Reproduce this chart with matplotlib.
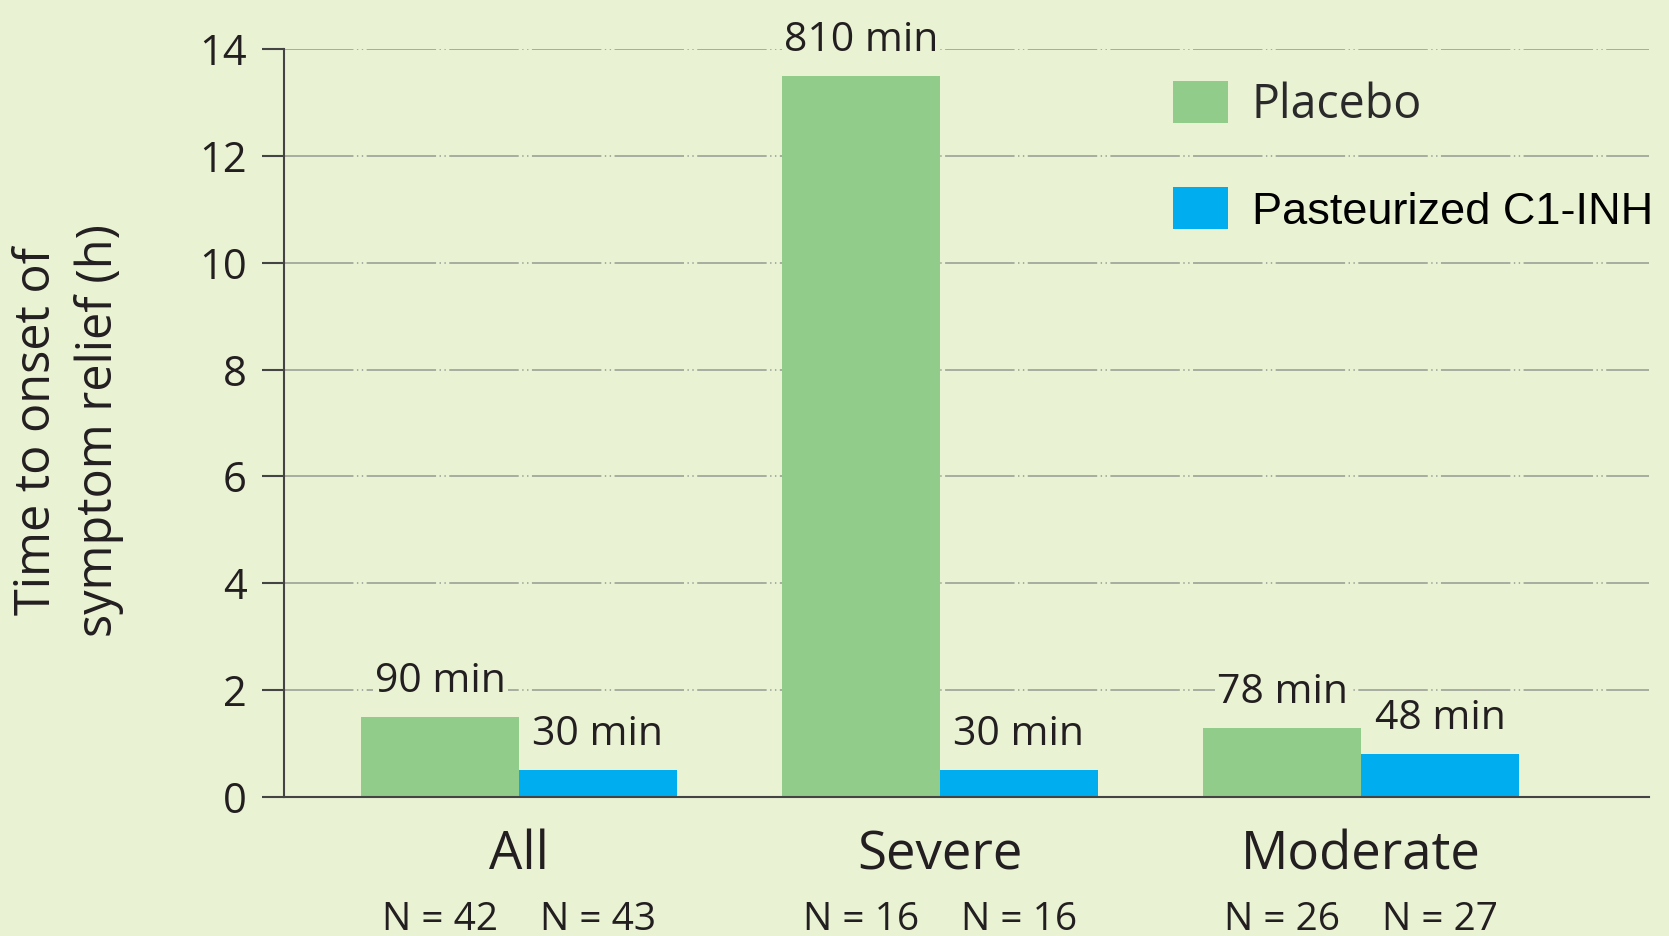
import matplotlib
matplotlib.use("Agg")
import matplotlib.pyplot as plt
import numpy as np

# Data: median time to onset of symptom relief, minutes
groups = ["All", "Severe", "Moderate"]
placebo_min = [90, 810, 78]
c1inh_min = [30, 30, 48]
placebo_n = [42, 16, 26]
c1inh_n = [43, 16, 27]
yticks = [0, 2, 4, 6, 8, 10, 12, 14]

BG = "#E9F2D3"
GREEN = "#92CC8A"
BLUE = "#00ADEF"
INK = "#231F20"
AXIS = "#444444"
FONT = "Open Sans"

plt.rcParams["lines.scale_dashes"] = False

fig = plt.figure(figsize=(16.69, 9.36), dpi=100, facecolor=BG)
ax = fig.add_axes([0.1702, 0.1485, 0.988 - 0.1702, 0.9476 - 0.1485])
ax.set_facecolor(BG)

x = np.arange(len(groups))
w = 0.375
placebo_h = np.array(placebo_min) / 60.0
c1inh_h = np.array(c1inh_min) / 60.0

b1 = ax.bar(x - w / 2, placebo_h, w, color=GREEN, label="Placebo", zorder=2)
b2 = ax.bar(x + w / 2, c1inh_h, w, color=BLUE, label="Pasteurized C1-INH", zorder=2)

ax.set_xlim(-0.558, 2.684)
ax.set_ylim(0, 14)

# Grid: long dash followed by two dots
ax.set_yticks(yticks)
ax.yaxis.grid(True, color="#A3A79B", linewidth=1.3,
              linestyle=(0, (50, 2.5, 1, 2.5, 1, 2.5)), zorder=1)
ax.set_axisbelow(True)

for s in ["top", "right"]:
    ax.spines[s].set_visible(False)
for s in ["left", "bottom"]:
    ax.spines[s].set_color(AXIS)
    ax.spines[s].set_linewidth(1.5)
    ax.spines[s].set_zorder(3)

ax.tick_params(axis="y", length=16, width=1.5, color=AXIS, pad=11,
               labelsize=30, labelcolor=INK)
ax.tick_params(axis="x", length=0, pad=23, labelsize=38, labelcolor=INK)
for lab in ax.get_yticklabels():
    lab.set_fontfamily(FONT)
ax.set_xticks(x)
ax.set_xticklabels(groups, fontfamily=FONT)

ax.set_ylabel("Time to onset of\nsymptom relief (h)", fontsize=35,
              fontfamily=FONT, color=INK, linespacing=1.3, va="center")
ax.yaxis.set_label_coords(-0.158, 0.49)

# Value labels above each bar
for bars, vals in ((b1, placebo_min), (b2, c1inh_min)):
    for rect, v in zip(bars, vals):
        ax.annotate(f"{v} min",
                    xy=(rect.get_x() + rect.get_width() / 2, rect.get_height()),
                    xytext=(0, 18), textcoords="offset points",
                    ha="center", va="baseline", fontsize=29.5, fontfamily=FONT,
                    color=INK, zorder=4, annotation_clip=False,
                    bbox=dict(boxstyle="square,pad=0.05", facecolor=BG,
                              edgecolor="none"))

# Sample sizes under each bar
for xs, ns in ((x - w / 2, placebo_n), (x + w / 2, c1inh_n)):
    for xi, n in zip(xs, ns):
        ax.annotate(f"N = {n}", xy=(xi, 0), xytext=(0, -95.8),
                    textcoords="offset points", ha="center", va="baseline",
                    fontsize=28, fontfamily=FONT, color=INK,
                    annotation_clip=False)

leg = ax.legend(loc="upper left", bbox_to_anchor=(0.651, 0.957),
                frameon=False, fontsize=33.5, handlelength=1.2,
                handleheight=1.0, handletextpad=0.5, labelspacing=1.25,
                borderpad=0, borderaxespad=0)
texts = leg.get_texts()
texts[0].set_fontfamily(FONT)
texts[0].set_color("#2A2A2A")
texts[1].set_fontfamily("Liberation Sans")
texts[1].set_fontsize(32.5)
texts[1].set_color("#000000")

fig.savefig("out.png", dpi=100, facecolor=BG)
